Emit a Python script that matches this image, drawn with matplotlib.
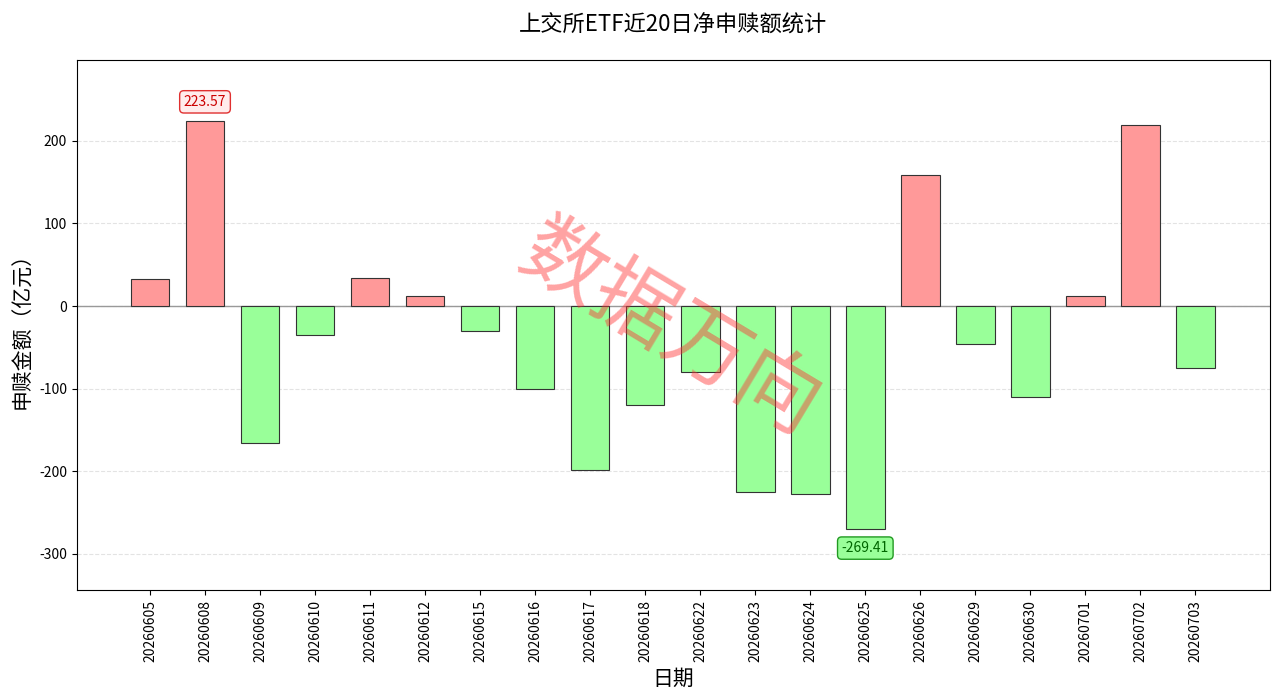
import matplotlib
matplotlib.use("Agg")
import matplotlib.pyplot as plt

plt.rcParams['font.family'] = ['Noto Sans CJK SC', 'DejaVu Sans']
plt.rcParams['axes.unicode_minus'] = False

# 数据
dates = ["20260605", "20260608", "20260609", "20260610", "20260611",
         "20260612", "20260615", "20260616", "20260617", "20260618",
         "20260622", "20260623", "20260624", "20260625", "20260626",
         "20260629", "20260630", "20260701", "20260702", "20260703"]
net_flow = [33, 223.57, -166, -35, 34, 12, -30, -100, -198, -120,
            -80, -225, -228, -269.41, 159, -46, -110, 12, 219, -75]

colors = ["#FF9999" if v >= 0 else "#99FF99" for v in net_flow]

fig, ax = plt.subplots(figsize=(12.8, 6.96), dpi=100)
x = list(range(len(dates)))
ax.bar(x, net_flow, width=0.7, color=colors, edgecolor="#333333", linewidth=0.8, zorder=3)

ax.axhline(0, color="#999999", linewidth=1, zorder=2)
ax.grid(axis="y", linestyle="--", color="#dddddd", alpha=0.8, zorder=0)

# 最大/最小值标注
i_max = net_flow.index(max(net_flow))
i_min = net_flow.index(min(net_flow))
ax.annotate(f"{net_flow[i_max]:.2f}", (i_max, net_flow[i_max]), xytext=(0, 9),
            textcoords="offset points", ha="center", va="bottom", fontsize=10,
            color="#CC0000",
            bbox=dict(boxstyle="round,pad=0.3", fc="#FFECEC", ec="#E03030", lw=1))
ax.annotate(f"{net_flow[i_min]:.2f}", (i_min, net_flow[i_min]), xytext=(0, -9),
            textcoords="offset points", ha="center", va="top", fontsize=10,
            color="#006600",
            bbox=dict(boxstyle="round,pad=0.3", fc="#99FF99", ec="#229922", lw=1))

# 水印
ax.text(0.497, 0.49, "数据万向", transform=ax.transAxes, fontsize=60,
        color="#FF3333", alpha=0.45, rotation=-31, ha="center", va="center", zorder=5)

ax.set_xticks(x)
ax.set_xticklabels(dates, rotation=90, fontsize=10)
ax.tick_params(axis="y", labelsize=10)
ax.set_xlim(-1.33, 20.35)
ax.set_ylim(-344, 298)
ax.set_yticks([-300, -200, -100, 0, 100, 200])

ax.set_title("上交所ETF近20日净申赎额统计", fontsize=16, pad=20)
ax.set_xlabel("日期", fontsize=15)
ax.set_ylabel("申赎金额（亿元）", fontsize=15)

fig.subplots_adjust(left=0.06, right=0.992, top=0.914, bottom=0.152)
plt.savefig("out.png")
